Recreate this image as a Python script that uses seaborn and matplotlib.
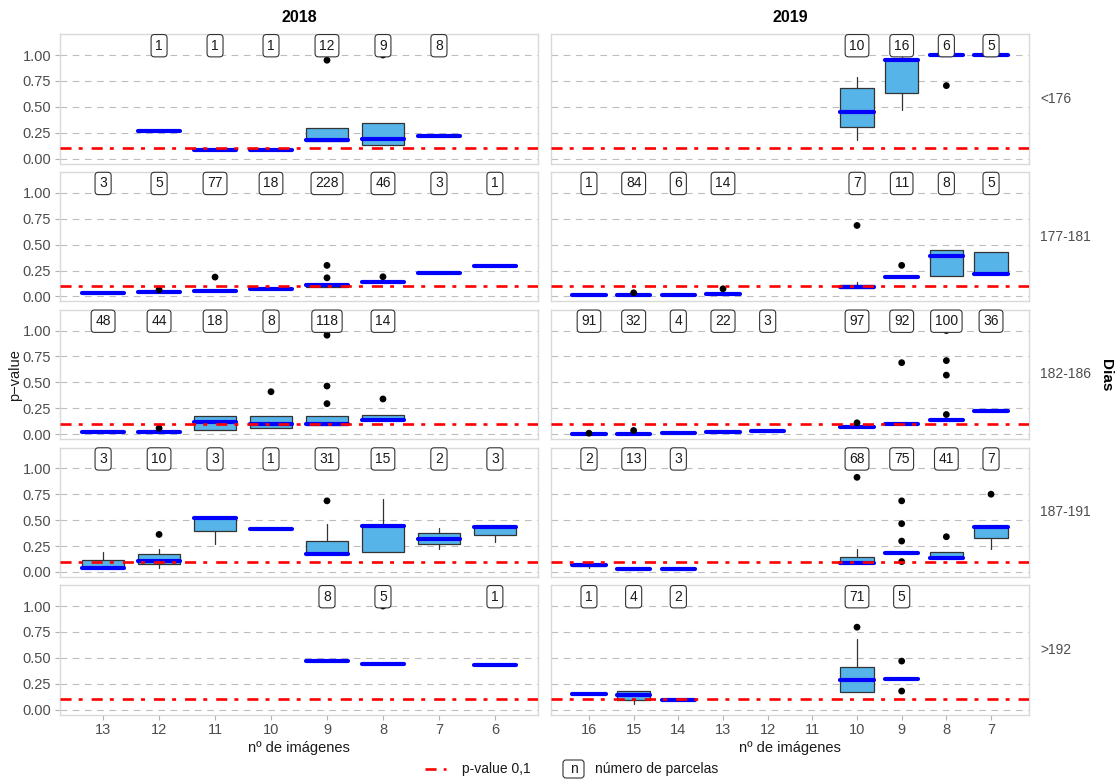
import numpy as np
import pandas as pd
import seaborn as sns
import matplotlib.pyplot as plt
from matplotlib.lines import Line2D
from matplotlib.patches import FancyBboxPatch

# Box statistics of the p-value per year, day range and number of images
year = [2018] * 6 + [2019] * 4 + [2018] * 8 + [2019] * 8 + [2018] * 6 + [2019] * 9 \
    + [2018] * 8 + [2019] * 7 + [2018] * 3 + [2019] * 5
dias = ["<176"] * 10 + ["177-181"] * 16 + ["182-186"] * 15 + ["187-191"] * 15 + [">192"] * 8
imagenes = [12, 11, 10, 9, 8, 7, 10, 9, 8, 7,
            13, 12, 11, 10, 9, 8, 7, 6, 16, 15, 14, 13, 10, 9, 8, 7,
            13, 12, 11, 10, 9, 8, 16, 15, 14, 13, 12, 10, 9, 8, 7,
            13, 12, 11, 10, 9, 8, 7, 6, 16, 15, 14, 10, 9, 8, 7,
            9, 8, 6, 16, 15, 14, 10, 9]
parcelas = [1, 1, 1, 12, 9, 8, 10, 16, 6, 5,
            3, 5, 77, 18, 228, 46, 3, 1, 1, 84, 6, 14, 7, 11, 8, 5,
            48, 44, 18, 8, 118, 14, 91, 32, 4, 22, 3, 97, 92, 100, 36,
            3, 10, 3, 1, 31, 15, 2, 3, 2, 13, 3, 68, 75, 41, 7,
            8, 5, 1, 1, 4, 2, 71, 5]
q1 = [0.27, 0.08, 0.085, 0.175, 0.135, 0.22, 0.31, 0.63, 1.0, 1.0,
      0.035, 0.042, 0.052, 0.068, 0.095, 0.142, 0.223, 0.294, 0.013, 0.013, 0.016, 0.026, 0.08, 0.184, 0.193, 0.22,
      0.018, 0.026, 0.042, 0.062, 0.085, 0.133, 0.005, 0.007, 0.013, 0.02, 0.03, 0.065, 0.10, 0.14, 0.22,
      0.036, 0.074, 0.395, 0.41, 0.178, 0.188, 0.269, 0.356, 0.055, 0.028, 0.032, 0.084, 0.18, 0.136, 0.325,
      0.466, 0.443, 0.43, 0.155, 0.09, 0.09, 0.175, 0.30]
mediana = [0.27, 0.08, 0.085, 0.185, 0.195, 0.22, 0.455, 0.955, 1.0, 1.0,
           0.035, 0.042, 0.052, 0.068, 0.106, 0.142, 0.223, 0.294, 0.013, 0.013, 0.016, 0.026, 0.088, 0.184, 0.395, 0.22,
           0.018, 0.026, 0.12, 0.10, 0.10, 0.14, 0.005, 0.007, 0.013, 0.02, 0.03, 0.065, 0.10, 0.14, 0.22,
           0.036, 0.107, 0.52, 0.41, 0.178, 0.447, 0.32, 0.43, 0.065, 0.03, 0.032, 0.084, 0.18, 0.136, 0.434,
           0.466, 0.443, 0.43, 0.155, 0.146, 0.09, 0.282, 0.30]
q3 = [0.27, 0.08, 0.085, 0.30, 0.34, 0.22, 0.685, 0.955, 1.0, 1.0,
      0.035, 0.042, 0.052, 0.068, 0.115, 0.142, 0.223, 0.294, 0.013, 0.013, 0.016, 0.026, 0.115, 0.184, 0.446, 0.43,
      0.018, 0.026, 0.178, 0.175, 0.175, 0.188, 0.005, 0.007, 0.013, 0.02, 0.03, 0.065, 0.10, 0.14, 0.22,
      0.117, 0.178, 0.52, 0.41, 0.298, 0.447, 0.379, 0.43, 0.075, 0.032, 0.032, 0.142, 0.18, 0.19, 0.434,
      0.466, 0.443, 0.43, 0.155, 0.181, 0.09, 0.414, 0.30]
bigote_inf = [0.27, 0.08, 0.085, 0.175, 0.135, 0.22, 0.185, 0.47, 1.0, 1.0,
              0.035, 0.042, 0.052, 0.068, 0.095, 0.142, 0.223, 0.294, 0.013, 0.013, 0.016, 0.026, 0.08, 0.184, 0.193, 0.22,
              0.018, 0.026, 0.042, 0.062, 0.085, 0.133, 0.005, 0.007, 0.013, 0.02, 0.03, 0.065, 0.10, 0.14, 0.22,
              0.036, 0.04, 0.27, 0.41, 0.178, 0.188, 0.22, 0.288, 0.035, 0.025, 0.032, 0.084, 0.18, 0.136, 0.218,
              0.466, 0.443, 0.43, 0.155, 0.06, 0.09, 0.175, 0.30]
bigote_sup = [0.27, 0.08, 0.085, 0.30, 0.34, 0.22, 0.79, 1.0, 1.0, 1.0,
              0.035, 0.042, 0.052, 0.068, 0.115, 0.142, 0.223, 0.294, 0.013, 0.013, 0.016, 0.026, 0.14, 0.184, 0.446, 0.43,
              0.018, 0.026, 0.178, 0.175, 0.175, 0.188, 0.005, 0.007, 0.013, 0.02, 0.03, 0.065, 0.10, 0.14, 0.22,
              0.197, 0.223, 0.52, 0.41, 0.466, 0.70, 0.427, 0.43, 0.10, 0.04, 0.032, 0.223, 0.18, 0.19, 0.434,
              0.466, 0.443, 0.43, 0.155, 0.181, 0.09, 0.683, 0.30]
atipicos = [[], [], [], [0.95], [1.0], [], [], [], [0.705], [],
            [], [0.065], [0.187], [], [0.18, 0.30], [0.19], [], [], [], [0.035], [], [0.074], [0.685], [0.30], [], [],
            [], [0.058], [], [0.41], [0.295, 0.465, 0.955, 0.995], [0.34], [0.01], [0.036], [], [], [], [0.11], [0.69],
            [0.19, 0.57, 0.71, 1.0], [],
            [], [0.362], [], [], [0.686], [], [], [], [], [], [], [0.913], [0.10, 0.298, 0.466, 0.686], [0.34], [0.75],
            [], [1.0], [], [], [], [], [0.796], [0.18, 0.469]]

anios = [2018, 2019]
rangos_dias = ["<176", "177-181", "182-186", "187-191", ">192"]
niveles = {2018: [13, 12, 11, 10, 9, 8, 7, 6],
           2019: [16, 15, 14, 13, 12, 11, 10, 9, 8, 7]}
y_ticks = [0.0, 0.25, 0.5, 0.75, 1.0]
umbral = 0.1

df = pd.DataFrame(dict(year=year, dias=dias, imagenes=imagenes, parcelas=parcelas,
                       q1=q1, med=mediana, q3=q3, lo=bigote_inf, hi=bigote_sup))
df["atipicos"] = atipicos

sns.set_theme(style="white")
plt.rcParams["font.family"] = ["Liberation Sans", "DejaVu Sans"]

W, H = 1116, 780
fig = plt.figure(figsize=(W / 100, H / 100), dpi=100)

col_x = [(60, 538), (551, 1029)]
xlims = {2018: (-0.77, 7.77), 2019: (-0.85, 9.85)}
row_top0, row_h, row_step = 34.3, 129.3, 137.75

GRID_C = "#BDBDBD"
TXT_C = "#4D4D4D"
RED_DASH = (4.2, 2.7, 1.5, 3.4)

for r, d in enumerate(rangos_dias):
    top = row_top0 + r * row_step
    for c, yr in enumerate(anios):
        x0, x1 = col_x[c]
        ax = fig.add_axes([x0 / W, 1 - (top + row_h) / H, (x1 - x0) / W, row_h / H])
        lv = niveles[yr]
        sub = df[(df.year == yr) & (df.dias == d)]
        pos = [lv.index(v) for v in sub.imagenes]

        for yv in y_ticks:
            ax.axhline(yv, color=GRID_C, lw=0.8, dashes=(6, 5), zorder=0.5)

        stats = [dict(med=row.med, q1=row.q1, q3=row.q3, whislo=row.lo,
                      whishi=row.hi, fliers=[]) for row in sub.itertuples()]
        ax.bxp(stats, positions=pos, widths=0.75, patch_artist=True,
               showfliers=False, showcaps=False, manage_ticks=False,
               boxprops=dict(facecolor="#56B4E9", edgecolor="#333333", linewidth=0.9),
               whiskerprops=dict(color="#333333", linewidth=0.9),
               medianprops=dict(color="#0000FF", linewidth=3.0,
                                solid_capstyle="round", zorder=3))

        fl = sub.explode("atipicos").dropna(subset=["atipicos"])
        if len(fl):
            sns.scatterplot(x=[lv.index(v) for v in fl.imagenes],
                            y=fl.atipicos.astype(float).values,
                            color="black", s=24, edgecolor="none", ax=ax, zorder=4)

        ax.axhline(umbral, color="red", lw=1.9, dashes=RED_DASH, zorder=5)

        for p, n in zip(pos, sub.parcelas):
            ax.text(p, 1.09, str(n), ha="center", va="center", fontsize=10,
                    color="#1A1A1A", zorder=6,
                    bbox=dict(boxstyle="round,pad=0.3,rounding_size=0.25",
                              fc="white", ec="#333333", lw=0.8))

        ax.set_xlim(*xlims[yr])
        ax.set_ylim(-0.047, 1.2)
        ax.set_xticks(range(len(lv)))
        ax.set_xticklabels([str(v) for v in lv])
        ax.set_yticks(y_ticks)
        ax.set_yticklabels([f"{v:.2f}" for v in y_ticks])
        ax.set_xlabel("")
        ax.set_ylabel("")
        ax.grid(False)
        ax.set_facecolor("white")
        for s in ax.spines.values():
            s.set_color("#D9D9D9")
            s.set_linewidth(1.0)
        ax.tick_params(axis="both", which="both", direction="out", length=3.8,
                       width=0.8, color="#B3B3B3", labelcolor=TXT_C,
                       labelsize=10.5, pad=2.5,
                       bottom=(r == len(rangos_dias) - 1),
                       labelbottom=(r == len(rangos_dias) - 1),
                       left=(c == 0), labelleft=(c == 0))

        if r == 0:
            fig.text((x0 + x1) / 2 / W, 1 - 17 / H, str(yr), ha="center",
                     va="center", fontsize=11.5, fontweight="bold", color="black")
        if c == 1:
            fig.text(1040 / W, 1 - (top + row_h / 2) / H, d, ha="left",
                     va="center", fontsize=10, color=TXT_C)
        if r == len(rangos_dias) - 1:
            fig.text((x0 + x1) / 2 / W, 1 - 748 / H, "nº de imágenes",
                     ha="center", va="center", fontsize=10.5, color="#1A1A1A")

fig.text(15 / W, 1 - 375 / H, "p\u2212value", rotation=90, ha="center",
         va="center", fontsize=10.5, color="#1A1A1A")
fig.text(1106 / W, 1 - 375 / H, "Dias", rotation=270, ha="center",
         va="center", fontsize=11, fontweight="bold", color="black")

# Legend: threshold line and count label key
ly = 1 - 769 / H
fig.add_artist(Line2D([425 / W, 446 / W], [ly, ly], transform=fig.transFigure,
                      color="red", lw=1.9, dashes=RED_DASH))
fig.text(462 / W, ly, "p-value 0,1", ha="left", va="center", fontsize=10,
         color="#1A1A1A")
key_box = FancyBboxPatch((5.63, (H - 778) / 100), 0.21, 0.18,
                         boxstyle="round,pad=0,rounding_size=0.03",
                         transform=fig.dpi_scale_trans,
                         fc="white", ec="#333333", lw=0.8)
fig.add_artist(key_box)
fig.text(573.5 / W, ly, "n", ha="center", va="center", fontsize=10,
         color="#1A1A1A")
fig.text(595 / W, ly, "número de parcelas", ha="left", va="center",
         fontsize=10, color="#1A1A1A")

fig.savefig("out.png", dpi=100)
